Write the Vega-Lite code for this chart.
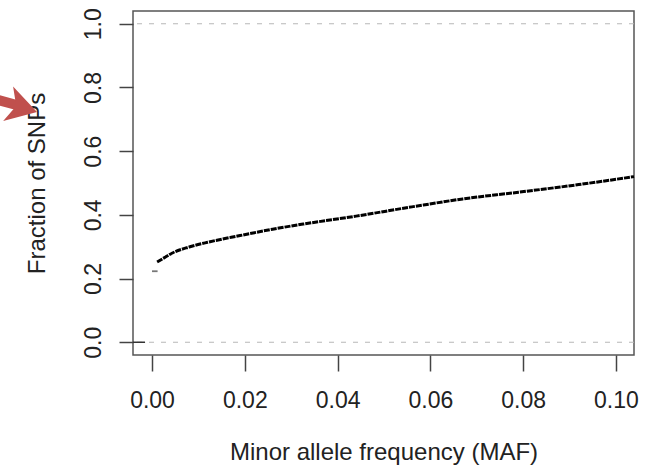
{
  "$schema": "https://vega.github.io/schema/vega-lite/v6.json",
  "width": 501,
  "height": 344,
  "autosize": {"type": "none"},
  "padding": {"left": 133, "top": 11, "right": 18, "bottom": 114},
  "background": "white",
  "config": {
    "view": {"stroke": "#555", "strokeWidth": 1.5},
    "font": "Liberation Sans"
  },
  "datasets": {
    "ecdf": [
      {"maf": 0.0011, "frac": 0.252},
      {"maf": 0.0026, "frac": 0.265},
      {"maf": 0.0045, "frac": 0.281},
      {"maf": 0.008, "frac": 0.299},
      {"maf": 0.012, "frac": 0.314},
      {"maf": 0.019, "frac": 0.335},
      {"maf": 0.026, "frac": 0.355},
      {"maf": 0.033, "frac": 0.372},
      {"maf": 0.044, "frac": 0.396},
      {"maf": 0.056, "frac": 0.425},
      {"maf": 0.067, "frac": 0.45},
      {"maf": 0.079, "frac": 0.471},
      {"maf": 0.092, "frac": 0.495},
      {"maf": 0.1039, "frac": 0.52}
    ],
    "refs": [{"frac": 0}, {"frac": 1}],
    "firststep": [{"maf": 0, "maf2": 0.0012, "frac": 0.223}],
    "leftseg": [{"maf": -0.0041, "maf2": -0.0015, "frac": 0}],
    "arrowshaft": [{"maf": -0.0345, "frac": 0.766, "maf2": -0.0272, "frac2": 0.737}],
    "arrowtip": [{"maf": -0.0248, "frac": 0.723}]
  },
  "layer": [
    {
      "data": {"name": "refs"},
      "mark": {"type": "rule", "color": "#b8b8b8", "strokeWidth": 1.2, "strokeDash": [5, 7]},
      "encoding": {
        "y": {"field": "frac", "type": "quantitative"}
      }
    },
    {
      "data": {"name": "ecdf"},
      "mark": {"type": "line", "color": "black", "strokeWidth": 3, "strokeDash": [6, 1], "interpolate": "monotone"},
      "encoding": {
        "x": {
          "field": "maf", "type": "quantitative",
          "scale": {"domain": [-0.0041, 0.1039], "nice": false, "zero": false},
          "axis": {
            "title": "Minor allele frequency (MAF)",
            "values": [0, 0.02, 0.04, 0.06, 0.08, 0.1],
            "format": ".2f",
            "grid": false, "domain": false,
            "tickColor": "#444", "tickSize": 16, "tickWidth": 1.5,
            "labelFont": "Liberation Sans", "labelFontSize": 23, "labelColor": "#222",
            "labelPadding": 18, "labelFlush": false, "labelOverlap": false,
            "titleFont": "Liberation Sans", "titleFontSize": 24, "titleFontWeight": "normal",
            "titleColor": "#222", "titlePadding": 28
          }
        },
        "y": {
          "field": "frac", "type": "quantitative",
          "scale": {"domain": [-0.04, 1.04], "nice": false, "zero": false},
          "axis": {
            "title": "Fraction of SNPs",
            "values": [0, 0.2, 0.4, 0.6, 0.8, 1.0],
            "format": ".1f",
            "grid": false, "domain": false,
            "tickColor": "#444", "tickSize": 14, "tickWidth": 1.5,
            "labelFont": "Liberation Sans", "labelFontSize": 23, "labelColor": "#222",
            "labelAngle": 270, "labelAlign": "center", "labelBaseline": "alphabetic",
            "labelPadding": 19, "labelFlush": false, "labelOverlap": false,
            "titleFont": "Liberation Sans", "titleFontSize": 24, "titleFontWeight": "normal",
            "titleColor": "#222", "titlePadding": 33
          }
        }
      }
    },
    {
      "data": {"name": "firststep"},
      "mark": {"type": "rule", "color": "#777", "strokeWidth": 1.8},
      "encoding": {
        "x": {"field": "maf", "type": "quantitative"},
        "x2": {"field": "maf2"},
        "y": {"field": "frac", "type": "quantitative"}
      }
    },
    {
      "data": {"name": "leftseg"},
      "mark": {"type": "rule", "color": "#333", "strokeWidth": 1.5},
      "encoding": {
        "x": {"field": "maf", "type": "quantitative"},
        "x2": {"field": "maf2"},
        "y": {"field": "frac", "type": "quantitative"}
      }
    },
    {
      "data": {"name": "arrowshaft"},
      "mark": {"type": "rule", "color": "#c0504d", "strokeWidth": 10, "strokeCap": "butt"},
      "encoding": {
        "x": {"field": "maf", "type": "quantitative"},
        "x2": {"field": "maf2"},
        "y": {"field": "frac", "type": "quantitative"},
        "y2": {"field": "frac2"}
      }
    },
    {
      "data": {"name": "arrowtip"},
      "mark": {"type": "point", "shape": "M0,0 L-1,-0.6 L-0.72,0 L-1,0.6 Z", "filled": true, "color": "#c0504d", "opacity": 1, "size": 3600, "angle": 16, "strokeWidth": 0},
      "encoding": {
        "x": {"field": "maf", "type": "quantitative"},
        "y": {"field": "frac", "type": "quantitative"}
      }
    }
  ]
}
